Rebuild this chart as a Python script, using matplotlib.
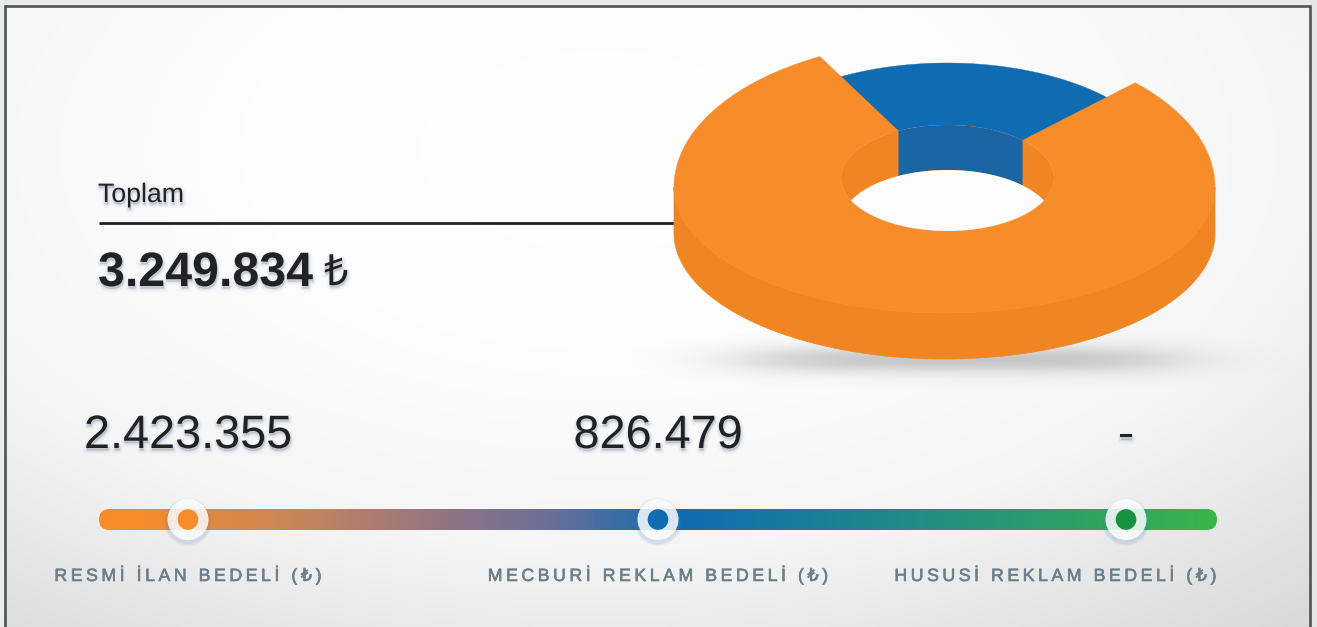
import numpy as np
import matplotlib
matplotlib.use("Agg")
import matplotlib.pyplot as plt
import matplotlib.patheffects as pe
from matplotlib.colors import LinearSegmentedColormap
from matplotlib.patches import Circle, FancyBboxPatch, Polygon

# ---- data ----
categories = ["RESMİ İLAN BEDELİ (₺)", "MECBURİ REKLAM BEDELİ (₺)", "HUSUSİ REKLAM BEDELİ (₺)"]
values = [2423355, 826479, 0]
value_labels = ["2.423.355", "826.479", "-"]
total_title = "Toplam"
total_label = "3.249.834"
currency = "₺"

ORANGE, ORANGE_D = "#F78D2A", "#F08523"
BLUE, BLUE_D = "#0F6CB3", "#1A66A5"
GREEN = "#38B54A"
INK = "#222226"
SLATE = "#6C808C"
FONTS = ["Liberation Sans", "DejaVu Sans"]

W, H = 1317, 627
fig = plt.figure(figsize=(W / 100, H / 100), dpi=100)
ax = fig.add_axes([0, 0, 1, 1])
ax.set_xlim(0, W)
ax.set_ylim(H, 0)
ax.axis("off")

# ---- background ----
yy, xx = np.mgrid[0:H, 0:W]
t = np.hypot((xx - 600) / 900, (yy - 150) / 500)
g = np.interp(t, [0, .4, .8, .94, 1.15, 1.25], [255, 253, 245, 236, 222, 216]) / 255
ax.imshow(np.dstack([g, g, g]), extent=(0, W, H, 0), aspect="auto", zorder=0)
ax.fill_between([0, W], 0, 4.5, color="#E9E9E9", lw=0, zorder=1)
ax.fill_between([0, 4], 0, H, color="#ECECEC", lw=0, zorder=1)
ax.fill_between([1311, W], 0, H, color="#E4E4E4", lw=0, zorder=1)
ax.plot([5, 5, 1309.5, 1309.5], [H, 6, 6, H], color="#4F5354", lw=1.9,
        solid_joinstyle="miter", zorder=2)

# ---- shadow under the donut ----
sh = np.exp(-((xx - 960) / 225.0) ** 4 - ((yy - 359) / 14.0) ** 2)
rgba = np.zeros((H, W, 4))
rgba[..., :3] = 0.46
rgba[..., 3] = 0.38 * sh
ax.imshow(rgba, extent=(0, W, H, 0), aspect="auto", zorder=3)

# ---- donut geometry ----
share = np.array(values, float) / sum(values)
FORESHORTEN = 0.789          # the view squeezes the far side of the ring
right_a = 45.2
left_a = right_a + 360 * share[1] * FORESHORTEN
DEPTH = 46


def outer(a, cx=944.5, cy=187.0, rx=270.5, up=147.0, lo=126.0):
    a = np.radians(a)
    s = np.sin(a)
    return np.c_[cx + rx * np.cos(a), cy - np.where(s > 0, up, lo) * s]


def ell(a, cx, cy, rx, ry):
    a = np.radians(a)
    return np.c_[cx + rx * np.cos(a), cy - ry * np.sin(a)]


inner = dict(cx=947.5, cy=178.0, rx=106.5, ry=53.0)
blue_rim = dict(cx=947.0, cy=178.0, rx=224.0, ry=115.0)

# side wall
low = outer(np.linspace(180, 360, 200))
wall = np.vstack([low, (low + [0, DEPTH])[::-1]])
ax.add_patch(Polygon(wall, fc=ORANGE_D, ec=ORANGE_D, lw=.5, zorder=4))

# blue slice, top face (runs a little under the orange slice)
arc = np.linspace(right_a - 4, left_a + 4, 80)
ax.add_patch(Polygon(np.vstack([ell(arc, **blue_rim), ell(arc[::-1], **inner)]),
                     fc=BLUE, ec=BLUE, lw=.3, zorder=4))

# orange slice, top face
arc = np.linspace(left_a, right_a + 360, 400)
ax.add_patch(Polygon(np.vstack([outer(arc), ell(arc[::-1], **inner)]),
                     fc=ORANGE, ec=ORANGE, lw=.3, zorder=5))

# inner wall
ring = ell(np.linspace(0, 360, 361), **inner)
ax.add_patch(Polygon(ring, fc=ORANGE_D, ec="none", zorder=5))
arc = np.linspace(right_a, left_a, 80)
up_edge = ell(arc, **inner)
ax.add_patch(Polygon(np.vstack([up_edge, (up_edge + [0, 45])[::-1]]),
                     fc=BLUE_D, ec="none", zorder=6))

# hole: the inner rim seen through the depth of the ring
a_tip = np.degrees(np.arcsin(22.5 / inner["ry"]))
front = ell(np.linspace(180 + a_tip, 360 - a_tip, 120), **inner)
back = ell(np.linspace(a_tip, 180 - a_tip, 120), **inner) + [0, 45]
ax.add_patch(Polygon(np.vstack([front, back]), fc="#FCFCFC", ec="none", zorder=7))

# ---- text helpers ----
SOFT = "#5F7FB0"
soft_shadow = [
    pe.Stroke(linewidth=5, foreground=SOFT, alpha=.035, offset=(.5, -1.8)),
    pe.Stroke(linewidth=3.2, foreground=SOFT, alpha=.06, offset=(.5, -1.8)),
    pe.Stroke(linewidth=1.6, foreground=SOFT, alpha=.08, offset=(.5, -1.8)),
    pe.Normal(),
]


def shadowed(x, y, s, **kw):
    kw.setdefault("family", FONTS)
    return ax.text(x, y, s, color=INK, zorder=9, path_effects=soft_shadow, **kw)


# ---- total block ----
shadowed(98, 202, total_title, fontsize=19.2, ha="left", va="baseline")
ax.plot([99, 676], [222.5, 222.5], color=INK, lw=2.0, solid_capstyle="butt", zorder=3.5)
shadowed(98, 286, total_label, fontsize=34.8, fontweight="bold", ha="left", va="baseline")
shadowed(324, 285, currency, fontsize=31, family=["Noto Sans", "DejaVu Sans"], ha="left", va="baseline")

# ---- slider ----
knobs = [188, 658, 1126]
knob_colors = [ORANGE, BLUE, "#16913F"]

bar_x0, bar_x1, bar_y0, bar_y1 = 99, 1217, 509, 530
frac = lambda x: (x - bar_x0) / (bar_x1 - bar_x0)
cmap = LinearSegmentedColormap.from_list(
    "bar", [(0, ORANGE), (frac(135), ORANGE), (frac(290), "#C98559"),
            (frac(430), "#977681"), (frac(550), "#6A6F98"), (frac(680), BLUE), (1, GREEN)])
im = ax.imshow(np.linspace(0, 1, 1118)[None, :], cmap=cmap,
               extent=(bar_x0, bar_x1, bar_y1, bar_y0), aspect="auto", zorder=4)
clip = FancyBboxPatch((bar_x0 + 10.5, bar_y0 + 10.5), bar_x1 - bar_x0 - 21, 0,
                      boxstyle="round,pad=10.5,rounding_size=10.5",
                      fc="none", ec="none", transform=ax.transData)
ax.add_patch(clip)
im.set_clip_path(clip)
ax.set_xlim(0, W)
ax.set_ylim(H, 0)

for x, c in zip(knobs, knob_colors):
    for r, a in [(24, .05), (23, .07), (22, .09)]:
        ax.add_patch(Circle((x, 522), r, fc="#5B7DB5", ec="none", alpha=a, zorder=5))
    ax.add_patch(Circle((x, 519.5), 20.5, fc="white", ec="none", alpha=.84, zorder=6))
    ax.add_patch(Circle((x, 519.5), 10.3, fc=c, ec="none", zorder=7))

# ---- value labels and captions ----
for x, s in zip(knobs, value_labels):
    shadowed(x, 448, s, fontsize=33.7, ha="center", va="baseline")

caption_x = [188, 658, 1055.5]
SPACE = "\u2009"
for x, s in zip(caption_x, categories):
    ax.text(x, 581, SPACE.join(s), fontsize=12.75, color=SLATE, family=FONTS,
            ha="center", va="baseline", zorder=9,
            path_effects=[pe.withStroke(linewidth=.45, foreground=SLATE)])

fig.savefig("out.png", dpi=100)
